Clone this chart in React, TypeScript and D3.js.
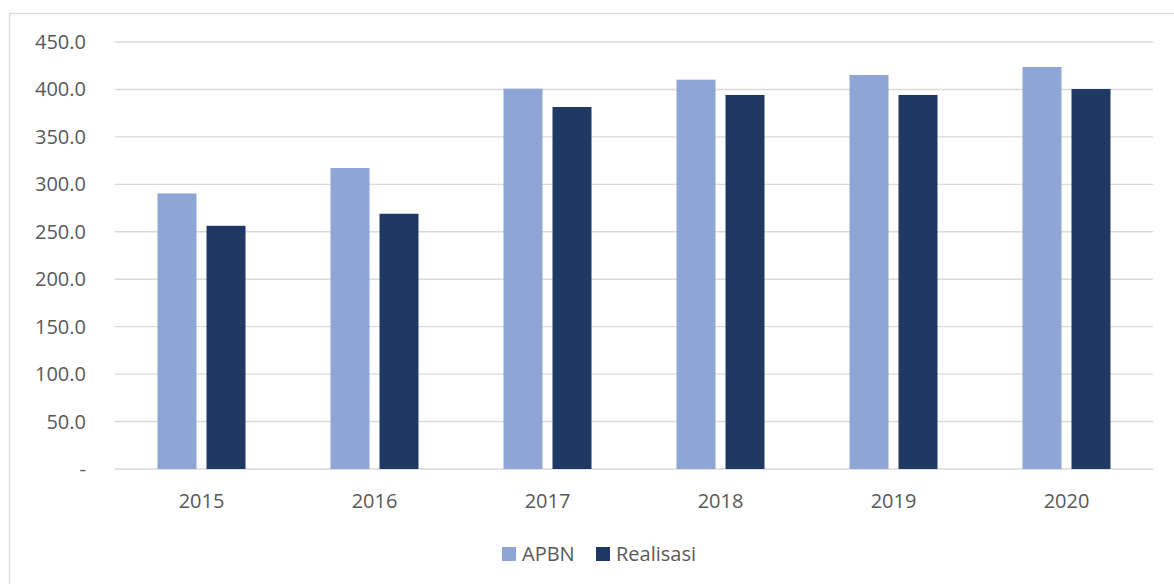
import React from "react";
import * as d3 from "d3";

const categories = ["2015", "2016", "2017", "2018", "2019", "2020"];
const apbn = [290.4, 317.2, 400.8, 410.3, 415.3, 423.7];
const realisasi = [256.3, 269.0, 381.5, 394.2, 394.2, 400.5];
const seriesNames = ["APBN", "Realisasi"];
const seriesColors = ["#8FA5D5", "#203864"];
const yTicks = [0, 50, 100, 150, 200, 250, 300, 350, 400, 450];

const W = 1174;
const H = 584;
const FONT = "'Open Sans', sans-serif";
const TEXT = "#595959";

export default function App() {
  const left = 115, right = 1153, top = 42, bottom = 469;
  const x = d3.scaleBand<string>().domain(categories).range([left, right]).padding(0);
  const y = d3.scaleLinear().domain([0, 450]).range([bottom, top]);
  const barW = 39;
  const gap = 10;
  const series = [apbn, realisasi];

  return (
    <svg width={W} height={H} style={{ position: "absolute", left: 0, top: 0, background: "#fff" }}>
      <rect x={9.5} y={13.5} width={W} height={H} fill="#fff" stroke="#D9D9D9" strokeWidth={1.3} />
      {yTicks.map((t) => (
        <g key={t}>
          <line x1={left} x2={right} y1={y(t)} y2={y(t)} stroke="#D9D9D9" strokeWidth={1.4} />
          <text x={86} y={y(t)} dy="0.35em" textAnchor="end" fontFamily={FONT} fontSize={20} fill={TEXT}>
            {t === 0 ? "-" : d3.format(".1f")(t)}
          </text>
        </g>
      ))}
      {categories.map((c, i) => {
        const cx = x(c)! + x.bandwidth() / 2;
        return (
          <g key={c}>
            {series.map((s, j) => {
              const bx = j === 0 ? cx - gap / 2 - barW : cx + gap / 2;
              return (
                <rect
                  key={j}
                  x={bx}
                  y={y(s[i])}
                  width={barW}
                  height={y(0) - y(s[i])}
                  fill={seriesColors[j]}
                />
              );
            })}
            <text x={cx} y={508} textAnchor="middle" fontFamily={FONT} fontSize={20} fill={TEXT}>
              {c}
            </text>
          </g>
        );
      })}
      {seriesNames.map((n, j) => {
        const lx = j === 0 ? 502 : 596;
        return (
          <g key={n}>
            <rect x={lx} y={547} width={14} height={14} fill={seriesColors[j]} />
            <text x={lx + 20} y={561} fontFamily={FONT} fontSize={20} fill={TEXT}>
              {n}
            </text>
          </g>
        );
      })}
    </svg>
  );
}
